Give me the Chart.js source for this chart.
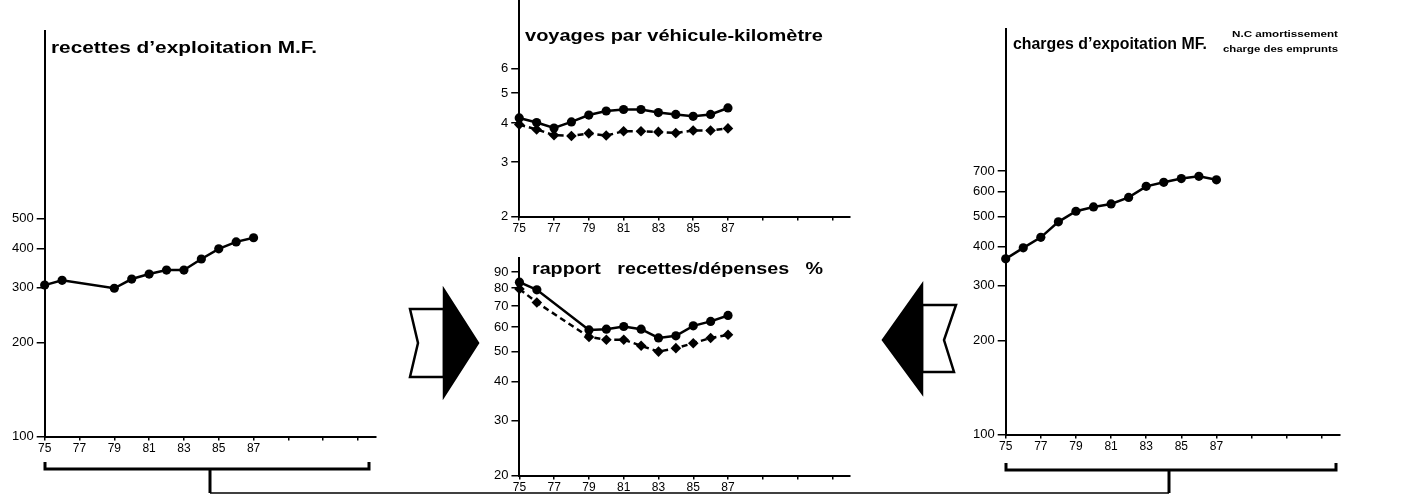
<!DOCTYPE html>
<html><head><meta charset="utf-8">
<script src="https://cdn.jsdelivr.net/npm/chart.js@4"></script>
<style>
html,body{margin:0;padding:0;background:#fff;width:1415px;height:495px;overflow:hidden;position:relative}
.box{position:absolute;left:0;top:0}
svg{position:absolute;left:0;top:0;pointer-events:none}
</style></head><body>
<div class="box" id="b1"><canvas id="c1"></canvas></div>
<div class="box" id="b2"><canvas id="c2"></canvas></div>
<div class="box" id="b3"><canvas id="c3"></canvas></div>
<div class="box" id="b4"><canvas id="c4"></canvas></div>
<svg width="1415" height="495" viewBox="0 0 1415 495">
  <g font-family="'Liberation Sans', Arial, Helvetica, sans-serif" font-weight="bold" fill="#000">
    <text x="51" y="53" font-size="16" textLength="266" lengthAdjust="spacingAndGlyphs">recettes d’exploitation M.F.</text>
    <text x="525" y="41" font-size="16" textLength="298" lengthAdjust="spacingAndGlyphs">voyages par véhicule-kilomètre</text>
    <text x="532" y="274" font-size="16" textLength="291" lengthAdjust="spacingAndGlyphs" style="white-space:pre">rapport   recettes/dépenses   %</text>
    <text x="1013" y="49" font-size="16" textLength="194" lengthAdjust="spacingAndGlyphs">charges d’expoitation MF.</text>
    <text x="1232" y="37" font-size="9" textLength="106" lengthAdjust="spacingAndGlyphs">N.C amortissement</text>
    <text x="1223" y="52" font-size="9" textLength="115" lengthAdjust="spacingAndGlyphs">charge des emprunts</text>
  </g>
  <g stroke="#000" fill="none" stroke-linejoin="miter">
    <path d="M45,462 L45,469 L369,469 L369,462" stroke-width="3"/>
    <path d="M210,469 L210,493" stroke-width="3"/>
    <path d="M210,493 L1169,493" stroke-width="1.5"/>
    <path d="M1006,463 L1006,470 L1336,470 L1336,463" stroke-width="3"/>
    <path d="M1169,470 L1169,493" stroke-width="3"/>
  </g>
  <g stroke="#000" stroke-width="2.5" stroke-linejoin="miter">
    <polygon points="444,309 410,309 418,343 410,377 444,377" fill="#fff"/>
    <polygon points="444,290 478,343 444,396" fill="#000"/>
    <polygon points="922,305 956,305 944,340 954,372 922,372" fill="#fff"/>
    <polygon points="922,285 883,340 922,393" fill="#000"/>
  </g>
</svg>
<script>
// ---- data ----
const years = [75, 76, 77, 78, 79, 80, 81, 82, 83, 84, 85, 86, 87];
const recettes = [306, 317, null, null, 299, 320, 332, 342, 342, 371, 400, 421, 434];
const voyagesA = [4.16, 4.02, 3.86, 4.04, 4.25, 4.38, 4.43, 4.43, 4.33, 4.27, 4.21, 4.27, 4.48];
const voyagesB = [3.96, 3.82, 3.66, 3.64, 3.71, 3.65, 3.77, 3.77, 3.75, 3.72, 3.79, 3.79, 3.85];
const rapportA = [83.5, 78.9, null, null, 58.7, 59.0, 60.2, 59.0, 55.3, 56.2, 60.5, 62.5, 65.3];
const rapportB = [79.4, 71.9, null, null, 55.7, 54.6, 54.6, 52.2, 50.0, 51.3, 53.2, 55.3, 56.6];
const charges = [366, 397, 429, 481, 520, 537, 549, 576, 625, 644, 662, 673, 656];
const xTickValues = [75, 77, 79, 81, 83, 85, 87, 89, 91, 93];
const xTickLabels = ['75', '77', '79', '81', '83', '85', '87'];
const yTicksRecettes = [100, 200, 300, 400, 500];
const yTicksVoyages = [2, 3, 4, 5, 6];
const yTicksRapport = [20, 30, 40, 50, 60, 70, 80, 90];
const yTicksCharges = [100, 200, 300, 400, 500, 600, 700];

const FONT = "'Liberation Sans Narrow', 'Liberation Sans', Arial, sans-serif";

function pts(arr) { return years.map((x, i) => ({x: x, y: arr[i]})); }

function solid(arr) {
  return {data: pts(arr), borderColor: '#000', backgroundColor: '#000', borderWidth: 2.5,
    pointRadius: 4.6, pointBackgroundColor: '#000', pointBorderWidth: 0, pointStyle: 'circle',
    spanGaps: true, tension: 0, clip: false, fill: false};
}
function dashed(arr) {
  return {data: pts(arr), borderColor: '#000', backgroundColor: '#000', borderWidth: 2.5,
    borderDash: [6, 4], pointRadius: 5.3, pointBackgroundColor: '#000', pointBorderWidth: 0,
    pointStyle: 'rectRot', spanGaps: true, tension: 0, clip: false, fill: false};
}

function makeChart(id, boxId, datasets, yMin, yMax, yTicks, area) {
  const box = document.getElementById(boxId);
  const cv = document.getElementById(id);
  const w0 = (area.right - area.left) + 60, h0 = (area.bottom - area.top) + 40;
  box.style.width = w0 + 'px'; box.style.height = h0 + 'px';
  cv.width = w0; cv.height = h0;
  const chart = new Chart(cv, {
    type: 'line',
    data: {datasets: datasets},
    options: {
      responsive: false, maintainAspectRatio: false, animation: false, devicePixelRatio: 1,
      layout: {padding: 0},
      plugins: {legend: {display: false}, tooltip: {enabled: false}, title: {display: false}},
      scales: {
        x: {
          type: 'linear', min: 75, max: 94,
          afterBuildTicks: s => { s.ticks = xTickValues.map(v => ({value: v})); },
          ticks: {autoSkip: false, maxRotation: 0, padding: 1, color: '#000',
            font: {family: FONT, size: 12},
            callback: (v, i) => (i < xTickLabels.length ? xTickLabels[i] : '')},
          grid: {drawOnChartArea: false, drawTicks: true, tickLength: 4, color: '#000', lineWidth: 1.5},
          border: {display: true, color: '#000', width: 2}
        },
        y: {
          type: 'logarithmic', min: yMin, max: yMax,
          afterBuildTicks: s => { s.ticks = yTicks.map(v => ({value: v})); },
          ticks: {autoSkip: false, padding: 3, color: '#000',
            font: {family: FONT, size: 13},
            callback: v => String(v)},
          grid: {drawOnChartArea: false, drawTicks: true, tickLength: 8, color: '#000', lineWidth: 1.5},
          border: {display: true, color: '#000', width: 2}
        }
      }
    }
  });
  // align the chart area with the target area on the page
  let w = w0, h = h0;
  for (let k = 0; k < 4; k++) {
    const a = chart.chartArea;
    w = Math.round(w + (area.right - area.left) - (a.right - a.left));
    h = Math.round(h + (area.bottom - area.top) - (a.bottom - a.top));
    box.style.width = w + 'px'; box.style.height = h + 'px';
    chart.resize(w, h);
  }
  const a = chart.chartArea;
  box.style.left = (area.left - a.left) + 'px';
  box.style.top = (area.top - a.top) + 'px';
  return chart;
}

makeChart('c1', 'b1', [solid(recettes)], 100, 2000, yTicksRecettes,
  {left: 45, right: 376, top: 31, bottom: 437});
makeChart('c2', 'b2', [solid(voyagesA), dashed(voyagesB)], 2, 10, yTicksVoyages,
  {left: 519, right: 849, top: 0, bottom: 217});
makeChart('c3', 'b3', [solid(rapportA), dashed(rapportB)], 20, 100, yTicksRapport,
  {left: 519, right: 849, top: 258, bottom: 476});
makeChart('c4', 'b4', [solid(charges)], 100, 2000, yTicksCharges,
  {left: 1006, right: 1340, top: 29, bottom: 435});
</script>
</body></html>
